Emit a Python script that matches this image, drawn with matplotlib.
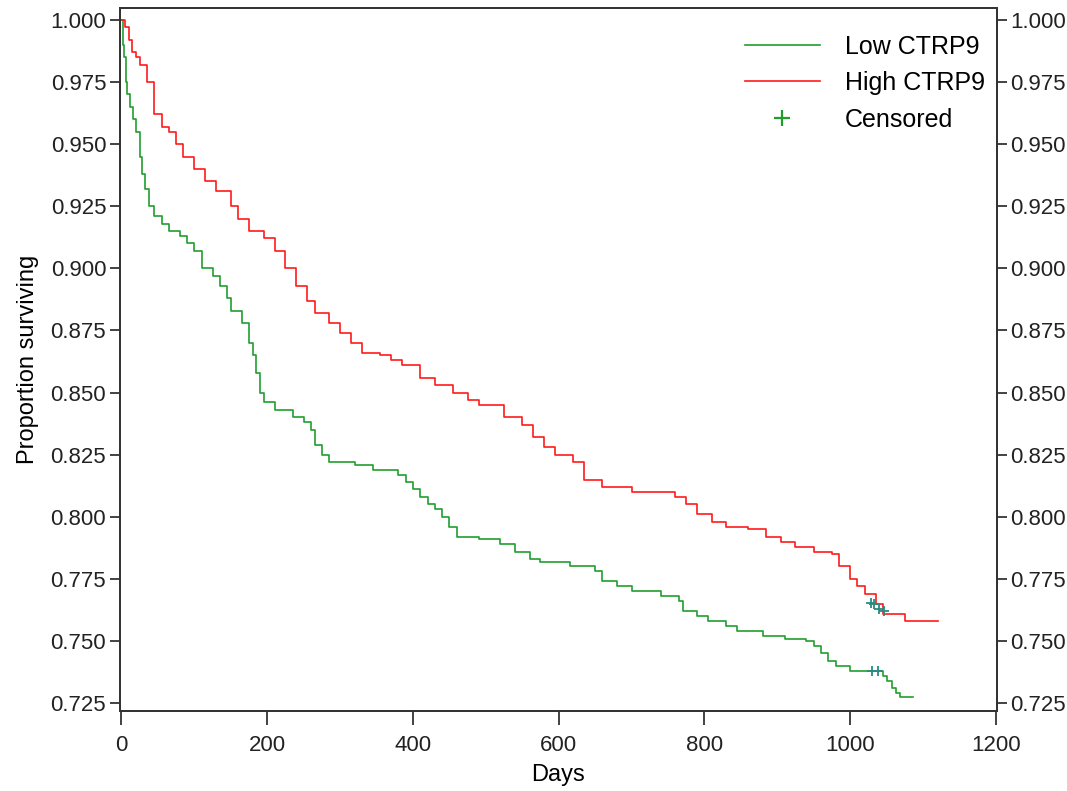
import numpy as np
import matplotlib.pyplot as plt

plt.rcParams['font.family'] = ['Liberation Sans', 'DejaVu Sans']

# Kaplan-Meier step points (days, proportion surviving)
high_days = [0, 5, 10, 15, 20, 25, 35, 45, 55, 65, 75, 85, 100, 115, 130, 150, 160,
             175, 195, 210, 225, 240, 255, 265, 285, 300, 315, 330, 355, 370, 385,
             410, 430, 455, 475, 490, 525, 550, 565, 580, 595, 620, 635, 660, 700,
             760, 775, 790, 810, 830, 860, 885, 905, 925, 950, 975, 985, 1000, 1010,
             1020, 1035, 1045, 1075, 1120]
high_surv = [1.000, 0.997, 0.992, 0.987, 0.985, 0.982, 0.975, 0.962, 0.957, 0.955,
             0.950, 0.945, 0.940, 0.935, 0.931, 0.925, 0.920, 0.915, 0.912, 0.907,
             0.900, 0.893, 0.887, 0.882, 0.878, 0.874, 0.870, 0.866, 0.865, 0.863,
             0.861, 0.856, 0.853, 0.850, 0.847, 0.845, 0.840, 0.837, 0.832, 0.828,
             0.825, 0.822, 0.815, 0.812, 0.810, 0.808, 0.805, 0.801, 0.798, 0.796,
             0.795, 0.792, 0.790, 0.788, 0.786, 0.785, 0.780, 0.775, 0.772, 0.769,
             0.765, 0.761, 0.758, 0.758]

low_days = [0, 2, 4, 6, 8, 12, 16, 20, 25, 28, 32, 38, 45, 55, 65, 80, 90, 100, 110,
            125, 135, 145, 150, 165, 175, 180, 185, 190, 195, 210, 235, 250, 260, 265,
            275, 285, 320, 345, 380, 390, 400, 410, 420, 430, 440, 450, 460, 490, 520,
            540, 560, 575, 615, 650, 660, 680, 700, 740, 765, 770, 790, 805, 830, 845,
            880, 910, 940, 950, 960, 970, 980, 1000, 1045, 1050, 1058, 1063, 1068, 1086]
low_surv = [1.000, 0.990, 0.985, 0.975, 0.970, 0.965, 0.960, 0.955, 0.945, 0.938,
            0.932, 0.925, 0.921, 0.918, 0.915, 0.913, 0.910, 0.907, 0.900, 0.897,
            0.893, 0.888, 0.883, 0.878, 0.870, 0.865, 0.858, 0.850, 0.846, 0.843,
            0.840, 0.838, 0.835, 0.829, 0.825, 0.822, 0.821, 0.819, 0.817, 0.814,
            0.811, 0.808, 0.805, 0.803, 0.800, 0.796, 0.792, 0.791, 0.789, 0.786,
            0.783, 0.782, 0.780, 0.778, 0.774, 0.772, 0.770, 0.768, 0.766, 0.762,
            0.760, 0.758, 0.756, 0.754, 0.752, 0.751, 0.750, 0.748, 0.745, 0.742,
            0.740, 0.738, 0.736, 0.734, 0.731, 0.729, 0.7275, 0.7275]

# censored observations
cens_high_days = [1028, 1033, 1040, 1046]
cens_high_surv = [0.7655, 0.765, 0.763, 0.762]
cens_low_days = [1030, 1038]
cens_low_surv = [0.738, 0.738]

yticks = [0.725, 0.750, 0.775, 0.800, 0.825, 0.850, 0.875, 0.900, 0.925, 0.950, 0.975, 1.000]
xticks = [0, 200, 400, 600, 800, 1000, 1200]

fig = plt.figure(figsize=(10.67, 7.91), dpi=100)
ax = fig.add_axes([0.1125, 0.101, 0.8215, 0.889])

ax.plot(low_days, low_surv, drawstyle='steps-post', color='#1f9e2e', lw=1.2, label='Low CTRP9')
ax.plot(high_days, high_surv, drawstyle='steps-post', color='#ff1a1a', lw=1.2, label='High CTRP9')
ax.plot(cens_high_days, cens_high_surv, '+', color='#2a8a80', ms=7, mew=1.3)
ax.plot(cens_low_days, cens_low_surv, '+', color='#2a8a80', ms=7, mew=1.3)
ax.plot([], [], '+', color='#1f9e2e', ms=11, mew=1.6, label='Censored')

ax.set_xlim(-2, 1201)
ax.set_ylim(0.7218, 1.0048)
ax.set_xticks(xticks)
ax.set_yticks(yticks)
ax.set_yticklabels([f'{v:.3f}' for v in yticks])
ax.tick_params(axis='x', direction='out', length=10, width=1.2, labelsize=16, pad=7, colors='#222222')
ax.tick_params(axis='y', direction='out', length=7, width=1.2, labelsize=16, pad=3, colors='#222222')

ax2 = ax.twinx()
ax2.set_ylim(ax.get_ylim())
ax2.set_yticks(yticks)
ax2.set_yticklabels([f'{v:.3f}' for v in yticks])
ax2.tick_params(axis='y', direction='out', length=7, width=1.2, labelsize=16, pad=3, colors='#222222')

for a in (ax, ax2):
    for s in a.spines.values():
        s.set_color('#333333')
        s.set_linewidth(1.3)

ax.set_xlabel('Days', fontsize=17, labelpad=6)
ax.set_ylabel('Proportion surviving', fontsize=17, labelpad=8)

ax.legend(loc='upper right', bbox_to_anchor=(1.012, 0.994), frameon=False, fontsize=18,
          handlelength=3.0, handletextpad=1.0, labelspacing=0.5)

fig.savefig('out.png', dpi=100)
